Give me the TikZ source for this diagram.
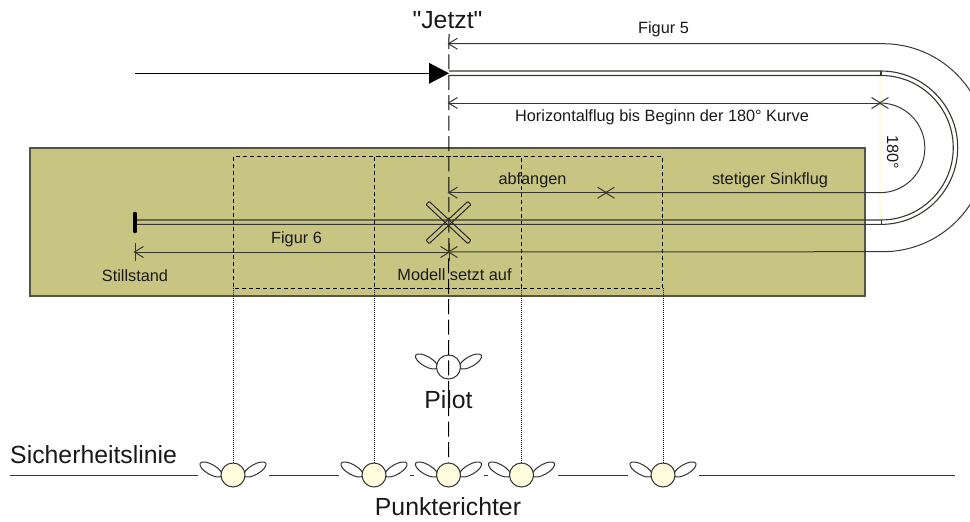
\documentclass[tikz,border=0pt]{standalone}
\usepackage{fontspec}
\setmainfont{Liberation Sans}[Ligatures=TeXOff]
\usetikzlibrary{arrows.meta,shapes.geometric}
\definecolor{fieldfill}{RGB}{200,197,130}
\definecolor{fieldline}{RGB}{85,85,70}
\definecolor{judgefill}{RGB}{255,253,222}
\definecolor{paleline}{RGB}{255,253,215}
\definecolor{dimcolor}{RGB}{55,55,50}
\tikzset{
  big/.style={font=\fontsize{24.8}{28}\selectfont,anchor=base,text=black!90},
  small/.style={font=\fontsize{16.3}{19}\selectfont,anchor=base,text=black!90},
  dimline/.style={draw=dimcolor,line width=1pt,shorten <=-1.5pt,shorten >=-1.5pt,>={Straight Barb[length=9pt,width=11pt]}},
  plainline/.style={draw=dimcolor,line width=1pt},
  trackline/.style={draw=dimcolor,line width=1.1pt},
  zone/.style={line width=1pt,dash pattern=on 4.5pt off 2.5pt},
  sightline/.style={line width=1pt,dash pattern=on 1pt off 1pt},
  wing/.style={draw=black!80,ellipse,fill=white,line width=1pt,minimum width=25pt,minimum height=10pt,inner sep=0pt},
  head/.style={draw=black!80,circle,line width=1pt,minimum size=24pt,inner sep=0pt},
  skid/.style={draw=black!85,line width=1pt,rounded corners=0.8pt,minimum width=57pt,minimum height=4.5pt,inner sep=0pt},
  pics/viewer/.style={code={
    \node [wing,rotate=-30] at (-22,-5.5) {};
    \node [wing,rotate=30] at (22,-5.5) {};
    \node [head,fill=#1] (-head) at (0,0) {};
  }}
}

\begin{document}
\begin{tikzpicture}[x=1pt,y=-1pt]
\useasboundingbox (0,0) rectangle (970,522);
% Feld
\draw [draw=fieldline,fill=fieldfill,line width=1.5pt] (30,148) rectangle (865,296);
\draw [zone] (233,156.5) rectangle (521.5,288);
\draw [zone] (374,156.5) rectangle (662.5,288);
\draw [paleline,line width=2.8pt] (880,75) -- (880,220);

% Personen
\pic (pilot) at (448.5,367) {viewer=white};
\pic (j1) at (233,475) {viewer=judgefill};
\pic (j2) at (374,475) {viewer=judgefill};
\pic (j3) at (448.5,475) {viewer=judgefill};
\pic (j4) at (521.5,475) {viewer=judgefill};
\pic (j5) at (663,475) {viewer=judgefill};

% Sicht
\coordinate (z1) at (233,288);
\coordinate (z2) at (374,288);
\coordinate (z3) at (521.5,288);
\coordinate (z4) at (663,288);
\draw [sightline] (z1) -- (j1-head.north);
\draw [sightline] (z2) -- (j2-head.north);
\draw [sightline] (z3) -- (j4-head.north);
\draw [sightline] (z4) -- (j5-head.north);
\coordinate (now) at (449,34);
\draw [line width=1pt,dash pattern=on 15pt off 5.4pt] (now) -- (j3-head.north);

% Sicherheitslinie
\coordinate (s1) at (10,475.5);
\coordinate (s2) at (198,475.5);
\coordinate (s3) at (269,475.5);
\coordinate (s4) at (339,475.5);
\coordinate (s5) at (410,475.5);
\coordinate (s6) at (414,475.5);
\coordinate (s7) at (484,475.5);
\coordinate (s8) at (488,475.5);
\coordinate (s9) at (558,475.5);
\coordinate (s10) at (628,475.5);
\coordinate (s11) at (699,475.5);
\coordinate (s12) at (955,475.5);
\draw [plainline] (s1) -- (s2);
\draw [plainline] (s3) -- (s4);
\draw [plainline] (s5) -- (s6);
\draw [plainline] (s7) -- (s8);
\draw [plainline] (s9) -- (s10);
\draw [plainline] (s11) -- (s12);

% Flugbahn
\coordinate (entry) at (135,73.3);
\coordinate (tipbase) at (429,73.3);
\coordinate (tip) at (449,73.3);
\draw [line width=1.2pt] (entry) -- (tipbase);
\fill (tipbase) ++(0,-10.5) -- (tip) -- (429,83.8) -- cycle;
\coordinate (trackA) at (449,71);
\coordinate (trackB) at (449,75.5);
\coordinate (bendA) at (881,71);
\coordinate (bendB) at (881,75.5);
\coordinate (stopA) at (135,220);
\coordinate (stopB) at (135,224.4);
\draw [trackline] (trackA) -- (bendA) arc [start angle=-90,end angle=90,radius=76.7] -- (stopB);
\draw [trackline] (trackB) -- (bendB) arc [start angle=-90,end angle=90,radius=72.25] -- (stopA);
\draw [trackline] (bendA) -- (bendB);
\draw [trackline] (881.5,220) -- (881.5,224.4);
\draw [line width=3.5pt,line cap=round] (135,213.5) -- (135,231.5);
\node [skid,rotate=-43] (skidA) at (448.5,222.5) {};
\node [skid,rotate=43] (skidB) at (448.5,222.5) {};

% Masslinien
\coordinate (f5a) at (449,43.7);
\coordinate (f5b) at (883,43.7);
\coordinate (touch) at (449,252);
\coordinate (still) at (135,252);
\draw [dimline,<->] (f5a) -- (f5b) arc [start angle=-90,end angle=90,radius=104] -- (touch);
\draw [dimline,<->] (still) -- (touch);
\draw [plainline] (135,243) -- (135,261);
\draw [plainline] (449,243) -- (449,261);
\coordinate (level) at (449,103);
\coordinate (turn) at (880,103);
\coordinate (catch) at (449,192.7);
\coordinate (glide) at (606,192.7);
\draw [dimline,<->] (level) -- (turn);
\draw [dimline,<->] (turn) arc [start angle=-90,end angle=90,radius=44.85] -- (glide);
\draw [dimline,<->] (catch) -- (glide);

% Beschriftung
\node [big] (nowlabel) at (447.5,28.5) {"Jetzt"};
\node [small] (fig5) at (663.5,33) {Figur 5};
\node [small] (levellabel) at (662,121) {Horizontalflug bis Beginn der 180° Kurve};
\node [small,rotate=-90] (turnlabel) at (887,152) {180°};
\node [small] (catchlabel) at (532.5,184) {abfangen};
\node [small] (glidelabel) at (770,184) {stetiger Sinkflug};
\node [small] (fig6) at (296.5,243) {Figur 6};
\node [small] (stilllabel) at (135,281.7) {Stillstand};
\node [small] (touchlabel) at (454.5,280) {Modell setzt auf};
\node [big] (pilotlabel) at (448.5,408) {Pilot};
\node [big,anchor=base west] (linelabel) at (6.7,463) {Sicherheitslinie};
\node [big] (judgelabel) at (448,515) {Punkterichter};
\end{tikzpicture}
\end{document}
